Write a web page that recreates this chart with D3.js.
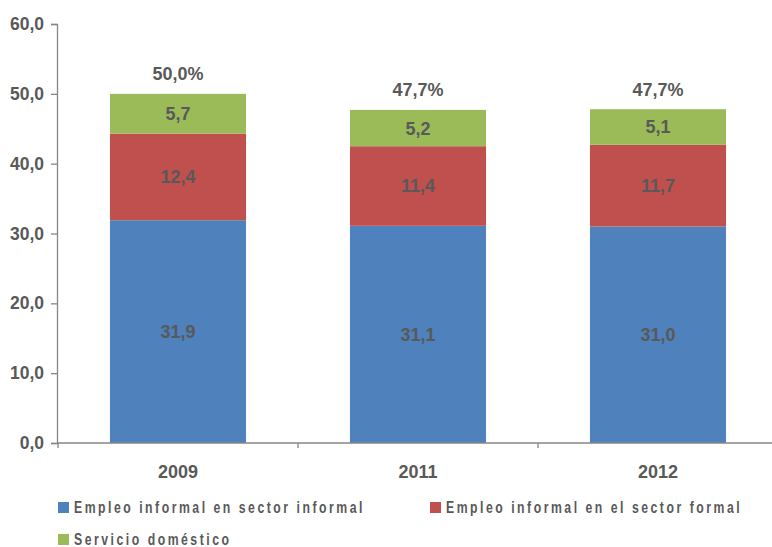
<!DOCTYPE html>
<html>
<head>
<meta charset="utf-8">
<script src="https://cdn.jsdelivr.net/npm/d3@7"></script>
<style>
  html, body { margin: 0; padding: 0; background: #fff; }
  svg { display: block; }
</style>
</head>
<body>
<svg id="chart" width="772" height="547"></svg>
<script>
// Years on the x axis
const years = ["2009", "2011", "2012"];
// Series (stacked bottom to top)
const seriesNames = ["Empleo informal en sector informal", "Empleo informal en el sector formal", "Servicio doméstico"];
const informalSector = [31.9, 31.1, 31.0];
const formalSector = [12.4, 11.4, 11.7];
const domestic = [5.7, 5.2, 5.1];
// Totals printed above each stack
const totalLabels = ["50,0%", "47,7%", "47,7%"];
// Y axis ticks
const yTicks = [0, 10, 20, 30, 40, 50, 60];

const colors = ["#4F81BD", "#C0504D", "#9BBB59"];
const textColor = "#595959";
const axisColor = "#868686";
const font = "Liberation Sans, Arial, sans-serif";

const svg = d3.select("#chart");

const rows = years.map((y, i) => ({
  year: y,
  s0: informalSector[i],
  s1: formalSector[i],
  s2: domestic[i]
}));

const stack = d3.stack().keys(["s0", "s1", "s2"]);
const layers = stack(rows);

const x = d3.scaleBand().domain(years).range([58, 778]).paddingInner(0.433).paddingOuter(0.2165);
const y = d3.scaleLinear().domain([0, 60]).range([443, 24]);

const fmt = v => d3.format(".1f")(v).replace(".", ",");

// Bars and segment values
const g = svg.append("g");
layers.forEach((layer, li) => {
  g.selectAll(null)
    .data(layer)
    .enter()
    .append("rect")
    .attr("x", d => x(d.data.year))
    .attr("width", x.bandwidth())
    .attr("y", d => y(d[1]))
    .attr("height", d => y(d[0]) - y(d[1]))
    .attr("fill", colors[li]);

  g.selectAll(null)
    .data(layer)
    .enter()
    .append("text")
    .attr("x", d => x(d.data.year) + x.bandwidth() / 2)
    .attr("y", d => (y(d[0]) + y(d[1])) / 2)
    .attr("dy", "0.36em")
    .attr("text-anchor", "middle")
    .attr("font-family", font)
    .attr("font-weight", "bold")
    .attr("font-size", 18)
    .attr("fill", textColor)
    .text(d => fmt(d[1] - d[0]));
});

// Totals above the stacks
g.selectAll(null)
  .data(rows)
  .enter()
  .append("text")
  .attr("x", d => x(d.year) + x.bandwidth() / 2)
  .attr("y", (d, i) => y(layers[2][i][1]) - 13.5)
  .attr("text-anchor", "middle")
  .attr("font-family", font)
  .attr("font-weight", "bold")
  .attr("font-size", 18)
  .attr("fill", textColor)
  .text((d, i) => totalLabels[i]);

// Y axis
const yAxis = d3.axisLeft(y).tickValues(yTicks).tickFormat(fmt).tickSize(6).tickPadding(7);
const yg = svg.append("g").attr("transform", "translate(57,0)").call(yAxis);
yg.select(".domain").attr("stroke", axisColor).attr("stroke-width", 1.3);
yg.selectAll(".tick line").attr("stroke", axisColor).attr("stroke-width", 1.3);
yg.selectAll(".tick text")
  .attr("font-family", font)
  .attr("font-weight", "bold")
  .attr("font-size", 17.5)
  .attr("fill", textColor);

// X axis line with ticks at band boundaries
const xg = svg.append("g");
xg.append("line")
  .attr("x1", 57).attr("x2", 772)
  .attr("y1", y(0)).attr("y2", y(0))
  .attr("stroke", axisColor).attr("stroke-width", 1.3);
const step = x.step();
const bounds = [0, 1, 2, 3].map(i => x.range()[0] + i * step);
xg.selectAll(null)
  .data(bounds)
  .enter()
  .append("line")
  .attr("x1", d => d).attr("x2", d => d)
  .attr("y1", y(0)).attr("y2", y(0) + 5)
  .attr("stroke", axisColor).attr("stroke-width", 1.3);
xg.selectAll(null)
  .data(years)
  .enter()
  .append("text")
  .attr("x", d => x(d) + x.bandwidth() / 2)
  .attr("y", 478)
  .attr("text-anchor", "middle")
  .attr("font-family", font)
  .attr("font-weight", "bold")
  .attr("font-size", 18)
  .attr("fill", textColor)
  .text(d => d);

// Legend (condensed, letter-spaced labels)
const legendPos = [
  { x: 58, y: 502 },
  { x: 430, y: 502 },
  { x: 58, y: 534 }
];
const lg = svg.append("g");
seriesNames.forEach((name, i) => {
  const p = legendPos[i];
  lg.append("rect")
    .attr("x", p.x).attr("y", p.y)
    .attr("width", 11).attr("height", 11)
    .attr("fill", colors[i]);
  lg.append("text")
    .attr("transform", `translate(${p.x + 16},${p.y + 11}) scale(0.72,1)`)
    .attr("font-family", font)
    .attr("font-weight", "bold")
    .attr("font-size", 17)
    .attr("letter-spacing", "3.5px")
    .attr("fill", textColor)
    .text(name);
});
</script>
</body>
</html>
